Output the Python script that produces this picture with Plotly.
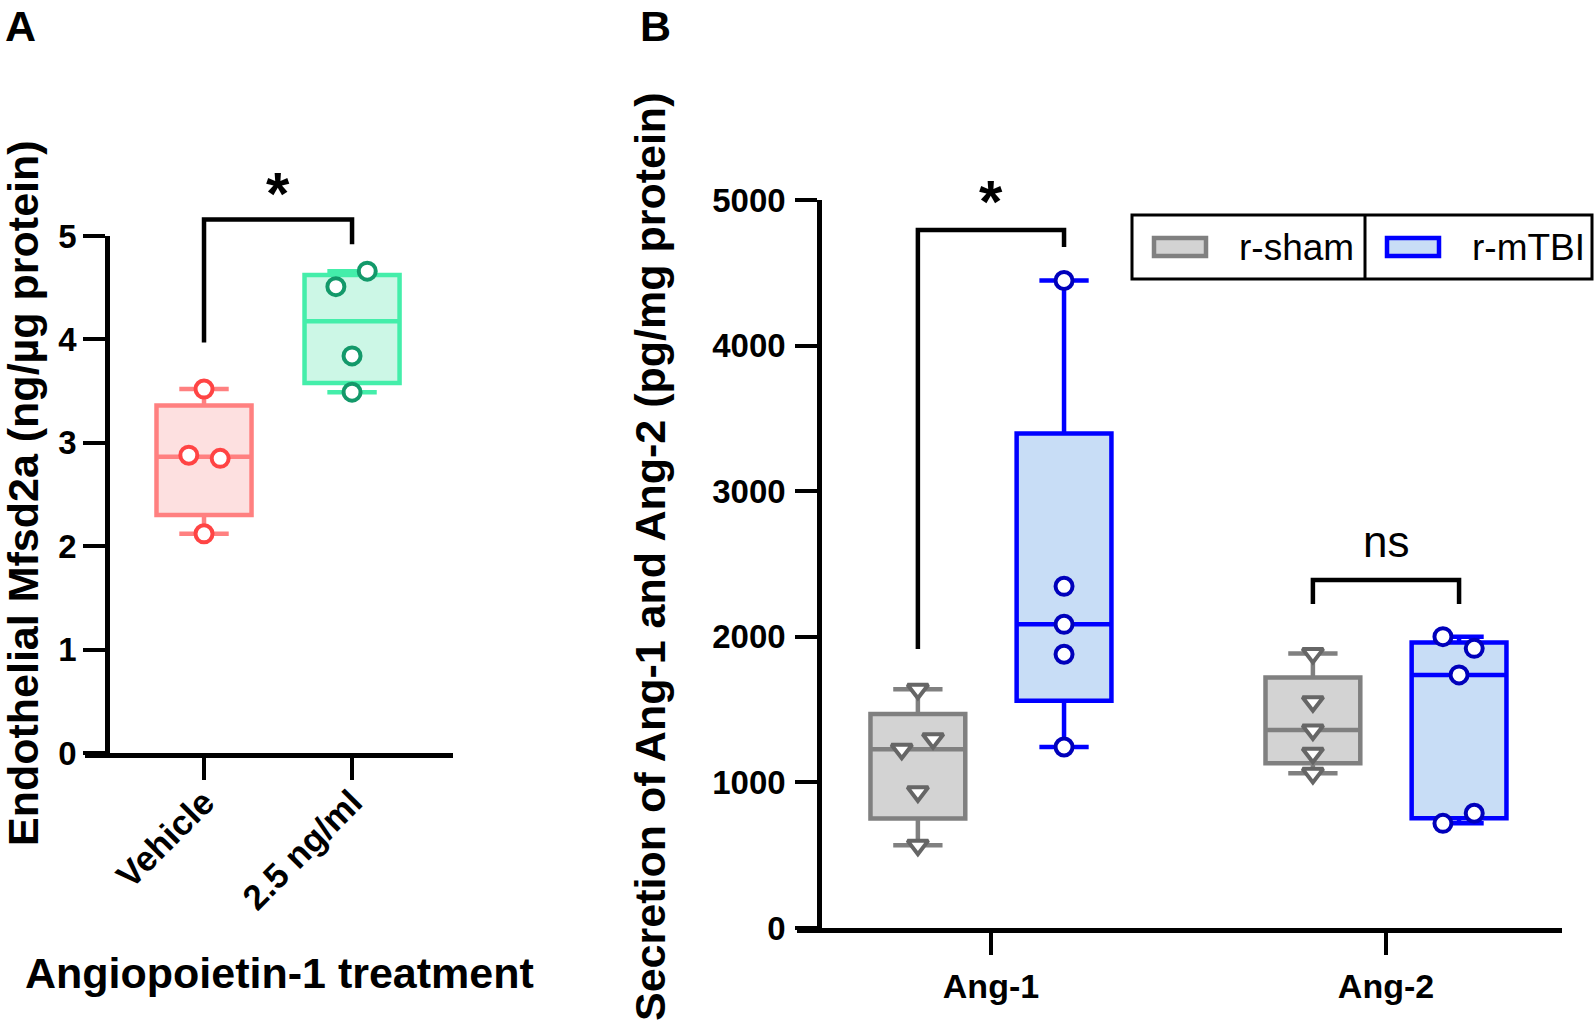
import numpy as np
import plotly.graph_objects as go

# ---------------- data ----------------
A_categories = ["Vehicle", "2.5 ng/ml"]
A_vehicle = [3.52, 2.88, 2.85, 2.12]
A_ang1_treat = [4.66, 4.51, 3.84, 3.49]
A_yticks = [0, 1, 2, 3, 4, 5]

B_categories = ["Ang-1", "Ang-2"]
B_series = ["r-sham", "r-mTBI"]
B_sham_ang1 = [1640, 1300, 1228, 935, 569]
B_mtbi_ang1 = [4447, 2347, 2086, 1880, 1243]
B_sham_ang2 = [1886, 1554, 1360, 1200, 1062]
B_mtbi_ang2 = [2001, 1921, 1738, 788, 719]
B_yticks = [0, 1000, 2000, 3000, 4000, 5000]

# point spread (fraction of box width), style only
A_vehicle_jit = [0, -0.16, 0.17, 0]
A_ang1_jit = [0.16, -0.17, 0, 0]
B_sham_ang1_jit = [0, 0.16, -0.17, 0, 0]
B_mtbi_ang1_jit = [0, 0, 0, 0, 0]
B_sham_ang2_jit = [0, 0, 0, 0, 0]
B_mtbi_ang2_jit = [-0.17, 0.16, 0, 0.16, -0.17]

# ---------------- page geometry ----------------
W, H = 1594, 1020
def fx(p):
    return p / W
def fy(p):
    return 1 - p / H

FONT = "Liberation Sans"
fig = go.Figure()

def stats(v):
    q1, med, q3 = np.percentile(v, [25, 50, 75], method="weibull")
    return q1, med, q3, min(v), max(v)

def add_group(vals, jit, pos, bw, line_c, fill_c, mk_c, symbol, size, xa, ya):
    q1, med, q3, lo, hi = stats(vals)
    fig.add_trace(go.Box(x=[pos], q1=[q1], median=[med], q3=[q3],
                         lowerfence=[lo], upperfence=[hi], width=bw,
                         whiskerwidth=0.52, boxpoints=False,
                         line=dict(color=line_c, width=4.5), fillcolor=fill_c,
                         xaxis=xa, yaxis=ya, showlegend=False, hoverinfo="skip"))
    fig.add_trace(go.Scatter(x=[pos + j * bw for j in jit], y=vals, mode="markers",
                             marker=dict(symbol=symbol, size=size, color="white",
                                         line=dict(color=mk_c, width=4)),
                             xaxis=xa, yaxis=ya, showlegend=False, cliponaxis=False,
                             hoverinfo="skip"))

def bracket(xl, xr, yl, yt, yr, xa, ya):
    fig.add_trace(go.Scatter(x=[xl, xl, xr, xr], y=[yl, yt, yt, yr], mode="lines",
                             line=dict(color="black", width=4.5),
                             xaxis=xa, yaxis=ya, showlegend=False, cliponaxis=False,
                             hoverinfo="skip"))

# ---------------- panel A ----------------
A_BW = 0.642
add_group(A_vehicle, A_vehicle_jit, 0, A_BW, "#FF8080", "#FDE0E0", "#FF4444", "circle", 17, "x", "y")
add_group(A_ang1_treat, A_ang1_jit, 1, A_BW, "#44EEAA", "#CCF7E6", "#13996A", "circle", 17, "x", "y")
bracket(0, 1, 3.97, 5.16, 4.92, "x", "y3")
fig.add_annotation(x=0.5, y=5.41, xref="x", yref="y3", text="*", showarrow=False,
                   font=dict(family=FONT, size=60, color="black", weight="bold"))

# ---------------- panel B ----------------
B_BW = 0.24
B_OFFS = 0.185
sham_line, sham_fill, sham_mk = "#808080", "#D3D3D3", "#666666"
mtbi_line, mtbi_fill, mtbi_mk = "#0000FF", "#C8DDF6", "#0000BB"
add_group(B_sham_ang1, B_sham_ang1_jit, 0 - B_OFFS, B_BW, sham_line, sham_fill, sham_mk, "triangle-down", 18, "x2", "y2")
add_group(B_mtbi_ang1, B_mtbi_ang1_jit, 0 + B_OFFS, B_BW, mtbi_line, mtbi_fill, mtbi_mk, "circle", 17, "x2", "y2")
add_group(B_sham_ang2, B_sham_ang2_jit, 1 - B_OFFS, B_BW, sham_line, sham_fill, sham_mk, "triangle-down", 18, "x2", "y2")
add_group(B_mtbi_ang2, B_mtbi_ang2_jit, 1 + B_OFFS, B_BW, mtbi_line, mtbi_fill, mtbi_mk, "circle", 17, "x2", "y2")
bracket(0 - B_OFFS, 0 + B_OFFS, 1916, 4794, 4677, "x2", "y4")
bracket(1 - B_OFFS, 1 + B_OFFS, 2225, 2390, 2225, "x2", "y4")
fig.add_annotation(x=0, y=4990, xref="x2", yref="y4", text="*", showarrow=False,
                   font=dict(family=FONT, size=60, color="black", weight="bold"))
fig.add_annotation(x=1, y=2655, xref="x2", yref="y4", text="ns", showarrow=False,
                   font=dict(family=FONT, size=44, color="black"))

# ---------------- axes ----------------
axis_common = dict(showgrid=False, zeroline=False, showline=True, linecolor="black",
                   linewidth=4.5, ticks="outside", tickcolor="black", tickwidth=4,
                   ticklen=22)
tickf = dict(family=FONT, size=33, color="black", weight="bold")

# pixel frames of the two panels (0 line, top tick line, top of annotation space)
A_y0, A_ytop, A_yann = 753, 236, 130
B_y0, B_ytop, B_yann = 928, 200, 130
A_ann_top = A_yticks[-1] * (A_y0 - A_yann) / (A_y0 - A_ytop)
B_ann_top = B_yticks[-1] * (B_y0 - B_yann) / (B_y0 - B_ytop)

fig.update_layout(
    xaxis=dict(domain=[fx(85), fx(453)], range=[-0.804, 1.682], anchor="y",
               tickvals=[0, 1], ticktext=A_categories, tickangle=-45,
               tickfont=dict(family=FONT, size=35, color="black", weight="bold"),
               ticklabelstandoff=-12, **axis_common),
    yaxis=dict(domain=[fy(A_y0), fy(A_ytop)], range=[A_yticks[0], A_yticks[-1]],
               anchor="free", position=fx(107),
               tickvals=A_yticks, tickfont=tickf, ticklabelstandoff=0, **axis_common),
    yaxis3=dict(domain=[fy(A_y0), fy(A_yann)], range=[0, A_ann_top], anchor="x",
                visible=False, showgrid=False, zeroline=False),
    xaxis2=dict(domain=[fx(797), fx(1562)], range=[-0.491, 1.4456], anchor="y2",
                tickvals=[0, 1], ticktext=B_categories,
                tickfont=dict(family=FONT, size=34, color="black", weight="bold"),
                ticklabelstandoff=2, **axis_common),
    yaxis2=dict(domain=[fy(B_y0), fy(B_ytop)], range=[B_yticks[0], B_yticks[-1]],
                anchor="free", position=fx(819),
                tickvals=B_yticks, tickfont=tickf, ticklabelstandoff=3, **axis_common),
    yaxis4=dict(domain=[fy(B_y0), fy(B_yann)], range=[0, B_ann_top], anchor="x2",
                visible=False, showgrid=False, zeroline=False),
)

# ---------------- titles ----------------
def text(x, y, s, size, bold=True, angle=0, xanchor="center", yanchor="middle"):
    fig.add_annotation(x=fx(x), y=fy(y), xref="paper", yref="paper", text=s,
                       showarrow=False, textangle=angle, xanchor=xanchor, yanchor=yanchor,
                       font=dict(family=FONT, size=size, color="black",
                                 weight="bold" if bold else "normal"))

text(3, 0, "A", 43, xanchor="left", yanchor="top")
text(638, 0, "B", 43, xanchor="left", yanchor="top")
text(23, 493, "Endothelial Mfsd2a (ng/µg protein)", 43, angle=-90)
text(279, 973, "Angiopoietin-1 treatment", 43)
text(650, 557, "Secretion of Ang-1 and Ang-2 (pg/mg protein)", 43, angle=-90)

# ---------------- legend (drawn) ----------------
shapes = [
    dict(type="rect", xref="paper", yref="paper", x0=fx(1132), x1=fx(1592), y0=fy(279), y1=fy(215),
         line=dict(color="black", width=3), fillcolor="rgba(0,0,0,0)", layer="above"),
    dict(type="line", xref="paper", yref="paper", x0=fx(1365), x1=fx(1365), y0=fy(279), y1=fy(215),
         line=dict(color="black", width=3)),
    dict(type="rect", xref="paper", yref="paper", x0=fx(1154), x1=fx(1206), y0=fy(256), y1=fy(238),
         line=dict(color=sham_line, width=4.5), fillcolor=sham_fill),
    dict(type="rect", xref="paper", yref="paper", x0=fx(1387), x1=fx(1439), y0=fy(256), y1=fy(238),
         line=dict(color=mtbi_line, width=4.5), fillcolor=mtbi_fill),
]
fig.update_layout(shapes=shapes)
text(1237, 247, B_series[0], 37, bold=False, xanchor="left")
text(1470, 247, B_series[1], 37, bold=False, xanchor="left")

fig.update_layout(width=W, height=H, autosize=False,
                  margin=dict(l=0, r=0, t=0, b=0, pad=0, autoexpand=False),
                  paper_bgcolor="white", plot_bgcolor="rgba(0,0,0,0)", showlegend=False)
fig.write_html("out.html", config={"displayModeBar": False},
               post_script="document.body.style.margin='0';document.body.style.overflow='hidden';")
